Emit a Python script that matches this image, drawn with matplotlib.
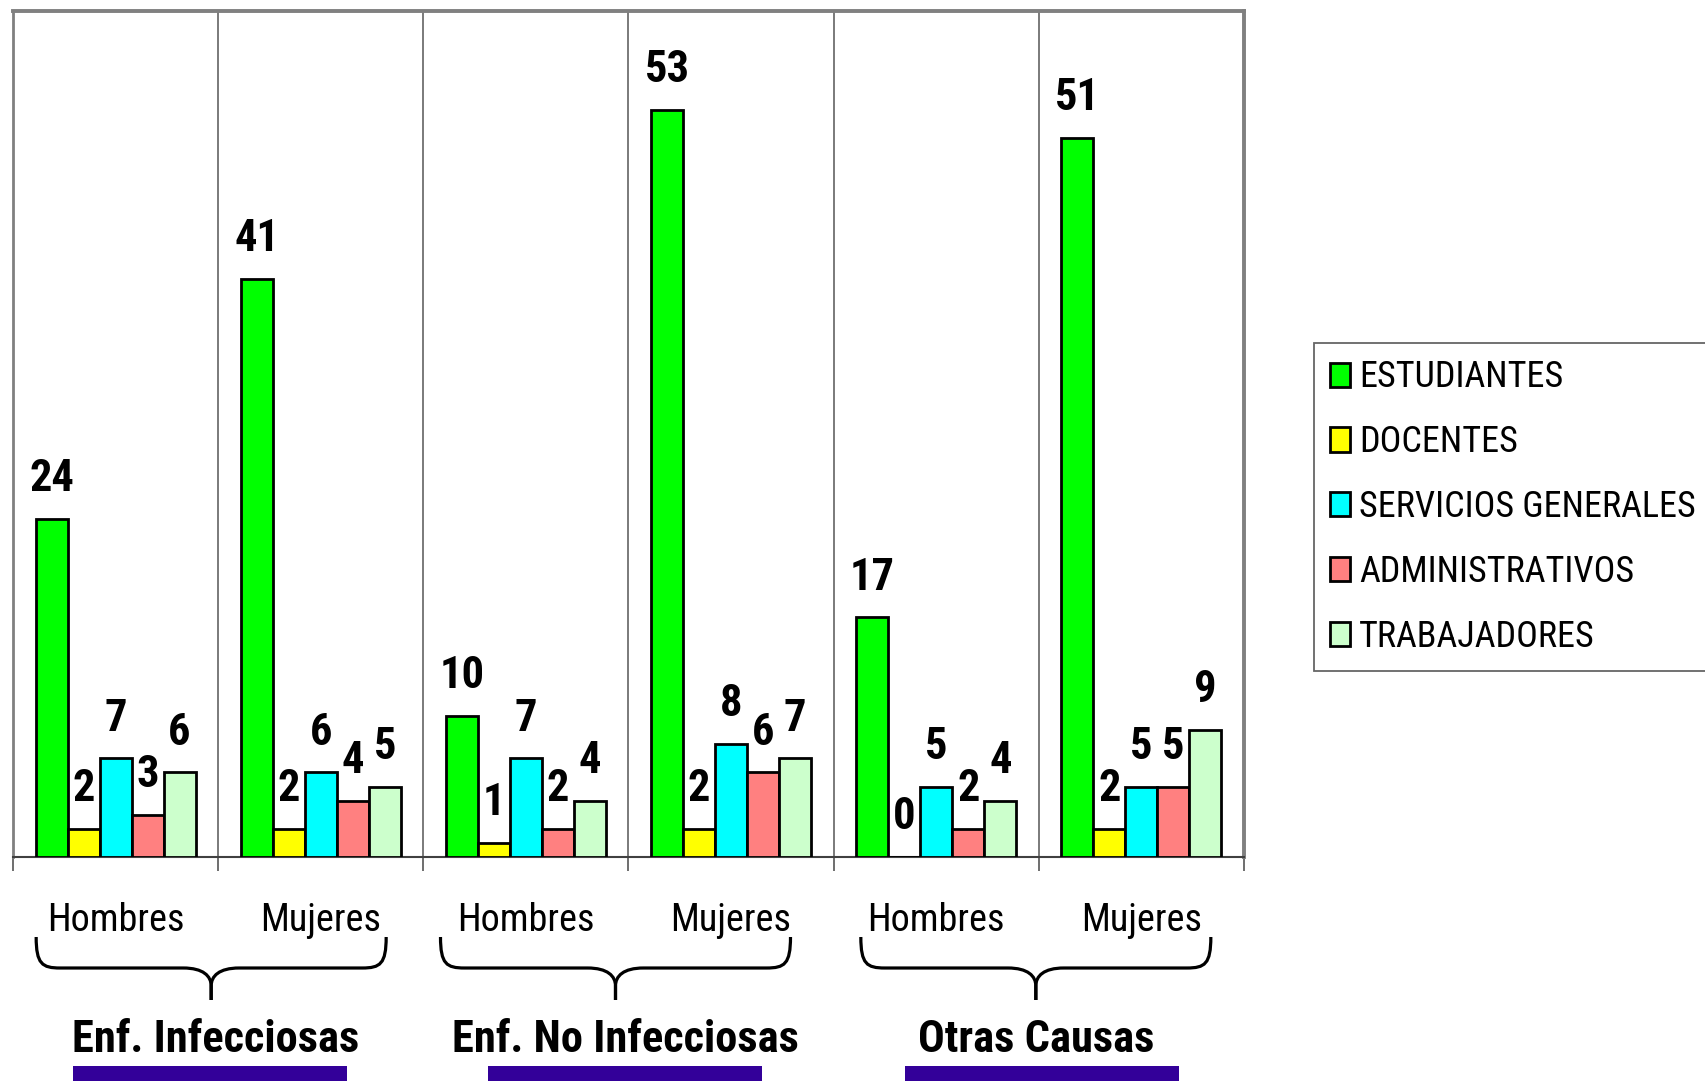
import matplotlib
matplotlib.use("Agg")
import matplotlib.pyplot as plt
from matplotlib.path import Path
from matplotlib.patches import PathPatch, Rectangle
import numpy as np

plt.rcParams['font.family'] = ['Roboto Condensed', 'Fira Sans Condensed',
                               'Archivo Narrow', 'DejaVu Sans']

# ---- data ----
categories = ["Hombres", "Mujeres", "Hombres", "Mujeres", "Hombres", "Mujeres"]
groups = ["Enf. Infecciosas", "Enf. No Infecciosas", "Otras Causas"]
series_names = ["ESTUDIANTES", "DOCENTES", "SERVICIOS GENERALES",
                "ADMINISTRATIVOS", "TRABAJADORES"]
estudiantes = [24, 41, 10, 53, 17, 51]
docentes = [2, 2, 1, 2, 0, 2]
servicios = [7, 6, 7, 8, 5, 5]
administrativos = [3, 4, 2, 6, 2, 5]
trabajadores = [6, 5, 4, 7, 4, 9]
series_values = [estudiantes, docentes, servicios, administrativos, trabajadores]
colors = ["#00FF00", "#FFFF00", "#00FFFF", "#FF8080", "#CCFFCC"]

W, H = 1706, 1081
DPI = 100
fig = plt.figure(figsize=(W / DPI, H / DPI), dpi=DPI)
fig.patch.set_facecolor("white")

# main plot area
ax = fig.add_axes([13 / W, (H - 857) / H, (1244 - 13) / W, (857 - 11) / H])
x = np.arange(len(categories))
bw = 0.156
for k, (vals, col) in enumerate(zip(series_values, colors)):
    pos = x + (k - 2) * bw
    ax.bar(pos, vals, width=bw, color=col, edgecolor="black", linewidth=2.0,
           label=series_names[k], zorder=3)
    for xp, v in zip(pos, vals):
        ax.annotate(str(v), xy=(xp, v), xytext=(0, 20), textcoords="offset points",
                    ha="center", va="baseline", fontsize=32, fontweight="bold",
                    zorder=4)

ax.set_xlim(-0.5, len(categories) - 0.5)
ax.set_ylim(0, 60)
ax.set_yticks([])
bounds = np.arange(-0.5, len(categories) + 0.5, 1.0)
ax.set_xticks(bounds)
ax.set_xticklabels([])
ax.tick_params(axis="x", direction="out", length=10, width=1.2, color="#555555")
for b in bounds[1:-1]:
    ax.axvline(b, color="#707070", linewidth=1.3, zorder=1)
ax.spines["left"].set_color("#808080")
ax.spines["left"].set_linewidth(2.0)
ax.spines["top"].set_color("#808080")
ax.spines["top"].set_linewidth(2.8)
ax.spines["right"].set_color("#808080")
ax.spines["right"].set_linewidth(2.8)
ax.spines["bottom"].set_color("#404040")
ax.spines["bottom"].set_linewidth(1.5)

# category labels below each pair of bars
for xi, name in zip(x, categories):
    ax.annotate(name, xy=(xi, 0), xycoords=("data", "axes fraction"),
                xytext=(0, -74 * 0.72), textcoords="offset points",
                ha="center", va="baseline", fontsize=27.5)

# legend
handles, labels = ax.get_legend_handles_labels()
leg = fig.legend(handles, labels, loc="upper left",
                 bbox_to_anchor=(1314 / W, 1 - 343 / H), bbox_transform=fig.transFigure,
                 fontsize=26, frameon=True, fancybox=False, borderaxespad=0,
                 handlelength=0.55, handleheight=0.65, handletextpad=0.25,
                 labelspacing=0.80, borderpad=0.45)
leg.get_frame().set_edgecolor("#404040")
leg.get_frame().set_linewidth(1.3)
for h in leg.legend_handles:
    h.set_linewidth(2.0)

# overlay in pixel coordinates for braces and group titles
ov = fig.add_axes([0, 0, 1, 1], zorder=5)
ov.set_xlim(0, W)
ov.set_ylim(H, 0)
ov.axis("off")
ov.patch.set_alpha(0)

def data_to_px(xd):
    disp = ax.transData.transform((xd, 0))
    return disp[0] * W / fig.bbox.width

def brace_half(c, half, side, y0=937, y1=968, y2=1000):
    re = 24  # end curve radius
    rm = 28  # middle curve radius
    s = side
    verts = [(c + s * half, y0), (c + s * half, y1 - 4), (c + s * (half - 6), y1),
             (c + s * (half - re), y1),
             (c + s * rm, y1),
             (c + s * 8, y1), (c, y1 + 8), (c, y1 + 18),
             (c, y2)]
    codes = [Path.MOVETO, Path.CURVE4, Path.CURVE4, Path.CURVE4,
             Path.LINETO,
             Path.CURVE4, Path.CURVE4, Path.CURVE4,
             Path.LINETO]
    ov.add_patch(PathPatch(Path(verts, codes), fill=False, lw=2.3, edgecolor="black",
                           capstyle="butt", joinstyle="round"))

brace_shift = [-7, -13, -3]
bar_shift = [-8, -3, 3]
for g, name in enumerate(groups):
    cx = data_to_px(2 * g + 0.5)
    brace_half(cx + brace_shift[g], 175, -1)
    brace_half(cx + brace_shift[g], 175, 1)
    ov.text(cx - 3, 1052, name, ha="center", va="baseline", fontsize=32,
            fontweight="bold")
    ov.add_patch(Rectangle((cx + bar_shift[g] - 137, 1066), 274, 20,
                           facecolor="#330099", edgecolor="none"))

fig.savefig("out.png", dpi=DPI, facecolor="white")
